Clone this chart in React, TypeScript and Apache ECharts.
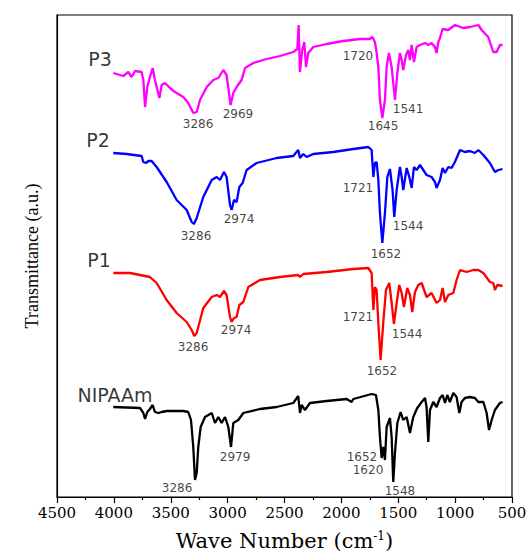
import React, { useEffect, useRef } from "react";
import * as echarts from "echarts";

// Wavenumber (cm-1) and transmittance (a.u., offset traces)
const p3Wave = [4005,3917,3873,3844,3814,3756,3741,3726,3706,3683,3659,3639,3600,3580,3551,3507,3463,3390,3346,3302,3272,3243,3184,3126,3082,3038,3009,2974,2950,2921,2877,2847,2774,2657,2540,2423,2387,2376,2364,2344,2326,2311,2291,2247,2130,1983,1837,1749,1728,1705,1690,1675,1661,1640,1617,1602,1582,1558,1529,1508,1485,1470,1456,1432,1412,1397,1382,1362,1338,1309,1265,1236,1207,1177,1163,1148,1133,1110,1060,1002,928,870,796,767,709,665,635,606,583];
const p3Trans = [424,421,425,420,426,425,417,390,410,420,429,417,399,412,414,409,405,400,394,384,385,397,410,417,419,427,422,392,404,410,417,429,434,438,441,445,448,472,425,447,455,430,444,450,453,456,458,458,460,455,444,430,397,379,397,430,444,430,397,424,444,437,427,442,447,437,452,435,450,452,454,452,454,450,444,455,459,468,467,472,469,470,472,467,460,445,445,452,452];

const p2Wave = [4005,3888,3756,3741,3718,3697,3668,3624,3536,3448,3360,3316,3296,3272,3214,3140,3096,3067,3032,3009,2979,2965,2944,2921,2897,2868,2833,2745,2569,2423,2379,2364,2335,2305,2247,2071,1895,1763,1734,1719,1705,1690,1675,1661,1640,1617,1596,1573,1550,1535,1514,1485,1470,1456,1426,1403,1382,1362,1338,1309,1280,1251,1207,1177,1163,1133,1110,1089,1060,1031,1002,957,914,870,826,796,752,694,650,620,583];
const p2Trans = [344,343,341,335,334,336,336,330,315,297,287,275,273,279,300,317,320,317,325,320,292,287,297,295,310,314,327,334,339,341,347,339,343,340,343,345,348,350,347,320,334,335,317,284,254,284,320,328,307,280,307,330,320,307,329,320,309,330,327,332,327,322,320,315,309,317,329,324,330,329,335,347,345,346,344,347,342,334,325,327,328];

const p1Wave = [4005,3858,3683,3624,3536,3448,3360,3316,3293,3272,3214,3140,3096,3067,3032,3009,2979,2965,2944,2921,2897,2862,2818,2716,2540,2379,2364,2335,2130,1895,1763,1734,1719,1705,1690,1675,1655,1632,1608,1579,1558,1538,1514,1491,1470,1450,1421,1397,1377,1353,1324,1294,1251,1207,1163,1133,1110,1089,1060,1016,987,957,899,840,796,752,694,665,650,629,583];
const p1Trans = [224,224,220,214,197,184,175,167,161,164,189,200,202,200,206,202,180,175,179,180,192,195,210,217,220,222,220,223,225,228,229,224,187,210,207,174,137,174,207,214,194,173,194,212,204,190,209,202,185,205,212,214,200,204,194,197,209,195,202,204,217,227,225,227,227,224,215,214,207,212,211];

const nWave = [4005,3770,3741,3726,3706,3683,3659,3639,3609,3580,3536,3390,3346,3322,3302,3287,3272,3258,3237,3199,3140,3111,3082,3053,3023,2994,2970,2950,2906,2862,2716,2569,2423,2379,2364,2349,2320,2276,2130,1954,1910,1895,1734,1696,1675,1661,1646,1632,1617,1602,1573,1558,1544,1529,1508,1479,1456,1426,1397,1368,1333,1294,1265,1251,1236,1221,1192,1163,1133,1110,1089,1069,1046,1016,987,963,943,914,870,826,796,752,723,702,679,650,606,583];
const nTrans = [90,89,84,78,85,88,92,85,84,85,86,86,85,77,50,17,24,50,70,80,84,74,80,74,80,70,50,74,77,84,88,90,94,101,84,92,87,94,96,98,95,98,103,102,87,60,39,50,37,70,79,60,15,44,74,85,77,80,64,80,89,95,99,90,55,87,95,90,99,102,94,102,95,104,100,84,95,99,100,99,95,95,84,67,77,87,94,95];

// Annotation texts and their positions (wavenumber, a.u.)
const seriesNames = ["P3", "P2", "P1", "NIPAAm"];
const seriesNameWave = [4122, 4140, 4131, 3990];
const seriesNameTrans = [438, 357, 237, 102];

const peakTexts = ["3286","2969","1720","1645","1541","3286","2974","1721","1544","1652","3286","2974","1721","1544","1652","2979","1652","1620","3286","1548"];
const peakWave = [3260,2909,1854,1634,1414,3278,2900,1854,1414,1608,3304,2926,1854,1423,1643,2935,1819,1766,3445,1485];
const peakTrans = [373,383,441,371,388,261,278,309,271,243,150,167,180,163,126,40,40,27,9,6];

const xTicks = { min: 500, max: 4500, interval: 500 };

function zip(a: number[], b: number[]) {
  return a.map((v, i) => [v, b[i]]);
}

export default function App() {
  const ref = useRef<HTMLDivElement>(null);
  useEffect(() => {
    if (!ref.current) return;
    const chart = echarts.init(ref.current, null, { renderer: "svg" });
    const lineSeries = (name: string, color: string, data: number[][]) => ({
      name,
      type: "line",
      data,
      symbol: "none",
      lineStyle: { color, width: 2.3 },
      itemStyle: { color },
      z: 2,
    });
    chart.setOption({
      animation: false,
      backgroundColor: "#fff",
      grid: {
        left: 57,
        right: 19,
        top: 15,
        bottom: 61,
        show: true,
        borderColor: "#000",
        borderWidth: 1.2,
        backgroundColor: "transparent",
      },
      xAxis: {
        type: "value",
        inverse: true,
        min: xTicks.min,
        max: xTicks.max,
        interval: xTicks.interval,
        axisLine: { show: true, onZero: false, lineStyle: { color: "#000", width: 1.2 } },
        axisTick: { show: true, inside: false, length: 6, lineStyle: { color: "#000", width: 1.2 } },
        minorTick: { show: true, splitNumber: 2, length: 3, lineStyle: { color: "#000", width: 1.2 } },
        splitLine: { show: false },
        axisLabel: {
          color: "#000",
          fontFamily: "DejaVu Serif",
          fontSize: 15,
          margin: 8,
          formatter: (v: number) => String(v),
        },
        name: "{t|Wave Number (cm}{s|-1}{t|)}",
        nameLocation: "middle",
        nameGap: 33,
        nameTextStyle: {
          rich: {
            t: { fontFamily: "DejaVu Serif", fontSize: 21, color: "#000" },
            s: { fontFamily: "DejaVu Serif", fontSize: 12, color: "#000", padding: [0, 0, 10, 0] },
          },
        },
      },
      yAxis: {
        type: "value",
        min: 0,
        max: 482,
        axisLine: { show: true, lineStyle: { color: "#000", width: 1.2 } },
        axisTick: { show: false },
        axisLabel: { show: false },
        splitLine: { show: false },
        name: "Transmittance (a.u.)",
        nameLocation: "middle",
        nameGap: 16,
        nameTextStyle: { fontFamily: "Liberation Serif", fontSize: 18, color: "#000" },
      },
      series: [
        lineSeries("P3", "#ff00ff", zip(p3Wave, p3Trans)),
        lineSeries("P2", "#0000ff", zip(p2Wave, p2Trans)),
        lineSeries("P1", "#ff0000", zip(p1Wave, p1Trans)),
        lineSeries("NIPAAm", "#000000", zip(nWave, nTrans)),
        {
          type: "scatter",
          symbolSize: 1,
          itemStyle: { color: "rgba(0,0,0,0)" },
          silent: true,
          z: 5,
          data: seriesNames.map((n, i) => ({
            name: n,
            value: [seriesNameWave[i], seriesNameTrans[i]],
          })),
          label: {
            show: true,
            position: "inside",
            formatter: (p: any) => p.name,
            fontFamily: "DejaVu Sans",
            fontSize: 19,
            color: "#000",
          },
        },
        {
          type: "scatter",
          symbolSize: 1,
          itemStyle: { color: "rgba(0,0,0,0)" },
          silent: true,
          z: 5,
          data: peakTexts.map((n, i) => ({
            name: n,
            value: [peakWave[i], peakTrans[i]],
          })),
          label: {
            show: true,
            position: "inside",
            formatter: (p: any) => p.name,
            fontFamily: "DejaVu Sans",
            fontSize: 12,
            color: "#111",
          },
        },
      ],
    });
    return () => chart.dispose();
  }, []);
  return <div ref={ref} style={{ width: 531, height: 558, position: "absolute", left: 0, top: 0 }} />;
}
